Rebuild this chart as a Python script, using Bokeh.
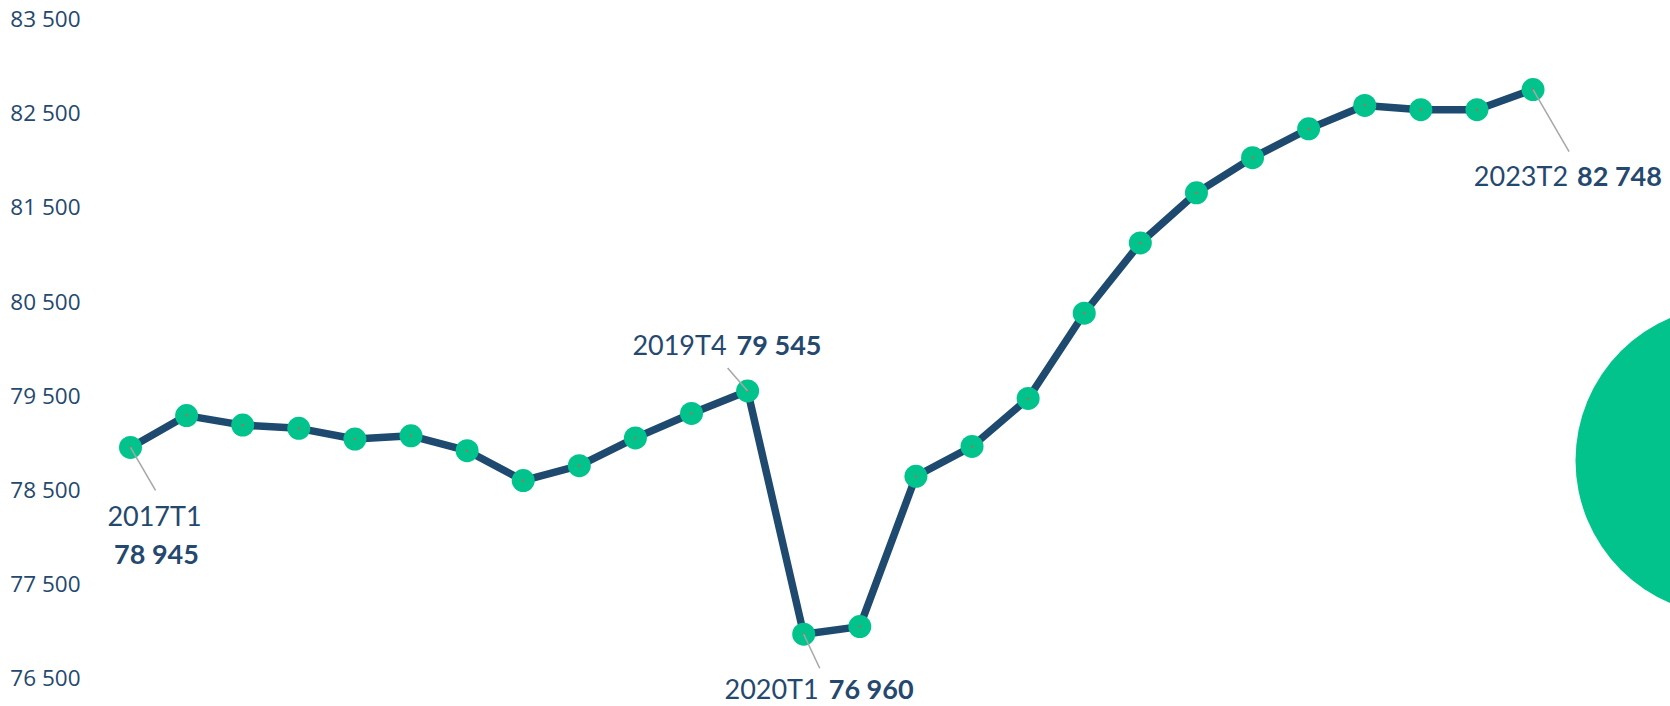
from bokeh.plotting import figure
from bokeh.models import Range1d, FixedTicker, ColumnDataSource
from bokeh.core.properties import value
from bokeh.embed import file_html
from bokeh.resources import INLINE

# ---- data ----
quarters = ["2017T1", "2017T2", "2017T3", "2017T4",
            "2018T1", "2018T2", "2018T3", "2018T4",
            "2019T1", "2019T2", "2019T3", "2019T4",
            "2020T1", "2020T2", "2020T3", "2020T4",
            "2021T1", "2021T2", "2021T3", "2021T4",
            "2022T1", "2022T2", "2022T3", "2022T4",
            "2023T1", "2023T2"]
values = [78945, 79283, 79182, 79148,
          79034, 79068, 78910, 78593,
          78751, 79046, 79306, 79545,
          76960, 77041, 78638, 78955,
          79465, 80371, 81118, 81650,
          82024, 82330, 82579, 82534,
          82534, 82748]
y_ticks = [76500, 77500, 78500, 79500, 80500, 81500, 82500, 83500]
y_tick_labels = ["76 500", "77 500", "78 500", "79 500", "80 500", "81 500", "82 500", "83 500"]
labelled = ["2017T1", "2019T4", "2020T1", "2023T2"]

# ---- style ----
NAVY = "#1F4A70"
GREEN = "#03C38D"
TXT = "#24486E"
GREY = "#A6A6A6"

W, H = 1670, 706
LEFT = 90
X_RANGE = (-0.713, 27.45)
Y_RANGE = (76192, 83694)
PX_X = (W - LEFT) / (X_RANGE[1] - X_RANGE[0])
PX_Y = H / (Y_RANGE[1] - Y_RANGE[0])

xs = list(range(len(quarters)))

p = figure(width=W, height=H, output_backend="svg", toolbar_location=None,
           x_range=Range1d(*X_RANGE), y_range=Range1d(*Y_RANGE),
           min_border_left=LEFT, min_border_right=0, min_border_top=0, min_border_bottom=0,
           x_axis_location=None)
p.outline_line_color = None
p.xgrid.visible = False
p.ygrid.visible = False
p.background_fill_color = "white"
p.border_fill_color = "white"

ax = p.yaxis[0]
ax.ticker = FixedTicker(ticks=y_ticks)
ax.major_label_overrides = {t: l for t, l in zip(y_ticks, y_tick_labels)}
ax.axis_line_color = None
ax.major_tick_line_color = None
ax.minor_tick_line_color = None
ax.major_tick_out = 0
ax.major_tick_in = 0
ax.major_label_standoff = 10
ax.major_label_text_font = "Open Sans"
ax.major_label_text_font_size = "22.5px"
ax.major_label_text_color = TXT

# decorative green shape at the right edge
deco_x = X_RANGE[1] + (1730 - W) / PX_X
deco_y = Y_RANGE[0] + (H - 460) / PX_Y
p.circle(x=[deco_x], y=[deco_y], radius=155, radius_units="screen",
         fill_color=GREEN, line_color=None)

src = ColumnDataSource(dict(x=xs, y=values, q=quarters))
p.line("x", "y", source=src, line_color=NAVY, line_width=7.5, line_join="round")
p.scatter("x", "y", source=src, size=23, fill_color=GREEN, line_color=None)
p.scatter("x", "y", source=src, size=2, fill_color="#E8562A", line_color=None)

# label placement (screen pixel offsets from the point)
lead = {"2017T1": (25, 43), "2019T4": (-20, -23), "2020T1": (16, 34), "2023T2": (36, 62)}
reg = {"2019T4": (-21, -46), "2020T1": (15, 54), "2023T2": (35, 86)}
bold = {"2019T4": (-11, -46), "2020T1": (25, 54), "2023T2": (44, 86)}

font = value("Lato")
FS = "27px"
for q in labelled:
    i = quarters.index(q)
    x0, y0 = xs[i], values[i]
    dx, dy = lead[q]
    p.segment(x0=[x0], y0=[y0], x1=[x0 + dx / PX_X], y1=[y0 - dy / PX_Y],
              line_color=GREY, line_width=1.5)
    num = f"{values[i]:,}".replace(",", " ")
    if q == "2017T1":
        p.text(x=[x0], y=[y0], text=[q], x_offset=24, y_offset=68,
               text_align="center", text_baseline="alphabetic",
               text_font=font, text_font_size=FS, text_color=TXT)
        p.text(x=[x0], y=[y0], text=[num], x_offset=26, y_offset=106,
               text_align="center", text_baseline="alphabetic",
               text_font=font, text_font_size=FS, text_font_style="bold", text_color=TXT)
    else:
        rx, ry = reg[q]
        bx, by = bold[q]
        p.text(x=[x0], y=[y0], text=[q], x_offset=rx, y_offset=ry,
               text_align="right", text_baseline="alphabetic",
               text_font=font, text_font_size=FS, text_color=TXT)
        p.text(x=[x0], y=[y0], text=[num], x_offset=bx, y_offset=by,
               text_align="left", text_baseline="alphabetic",
               text_font=font, text_font_size=FS, text_font_style="bold", text_color=TXT)

open("out.html", "w").write(file_html(p, INLINE))
